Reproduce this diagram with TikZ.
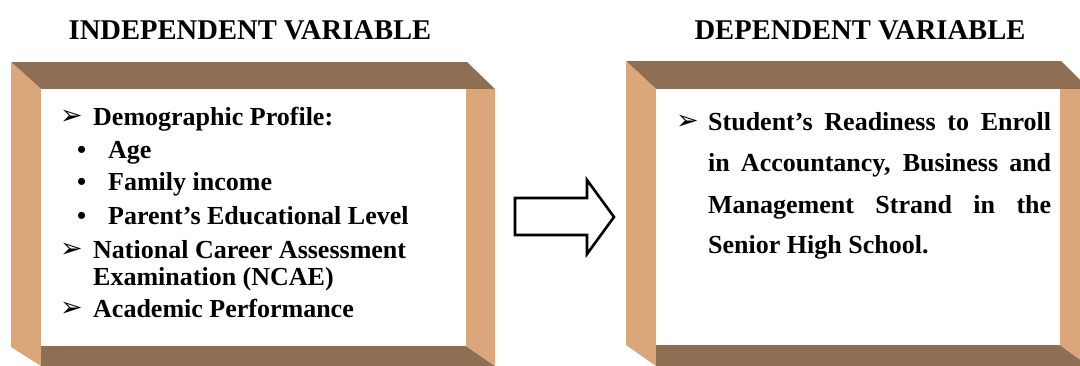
\documentclass[tikz,border=0pt]{standalone}
\usepackage{fontspec}
\setmainfont{Liberation Serif}
\newfontfamily\dingfont{DejaVu Sans}
\definecolor{darkband}{RGB}{142,111,83}
\definecolor{lightband}{RGB}{219,167,122}
\tikzset{
  txt/.style={inner sep=0pt, anchor=base west, font=\fontsize{26}{26}\selectfont\bfseries},
  ttl/.style={inner sep=0pt, anchor=base, font=\fontsize{28.6}{28.6}\selectfont\bfseries},
  dart/.style={inner sep=0pt, anchor=base west, font=\dingfont\bfseries\fontsize{27}{27}\selectfont},
  dot/.style={inner sep=0pt, anchor=base west, font=\fontsize{26}{26}\selectfont\bfseries},
  dband/.style={fill=darkband, draw=none},
  lband/.style={fill=lightband, draw=none},
  blockarrow/.style={draw=black, line width=2.6pt, fill=white, line join=miter}
}
\begin{document}
\begin{tikzpicture}[x=1pt,y=-1pt]
\useasboundingbox (0,0) rectangle (1080,365);
\clip (0,0) rectangle (1080,365);
\fill[white] (0,0) rectangle (1080,365);

% titles
\node[ttl] (t1) at (250,39) {INDEPENDENT VARIABLE};
\node[ttl] (t2) at (860,39) {DEPENDENT VARIABLE};

% left frame
\fill[dband] (11,62) -- (467,62) -- (495,89) -- (41,89) -- cycle;
\fill[lband] (11,62) -- (41,89) -- (41,366) -- (11,347) -- cycle;
\fill[dband] (41,346) -- (466,346) -- (495,366) -- (41,366) -- cycle;
\fill[lband] (466,89) -- (495,89) -- (495,366) -- (466,346) -- cycle;
\fill[white] (41,89) rectangle (466,346);

% right frame
\fill[dband] (626,61) -- (1061,61) -- (1089,89) -- (656,89) -- cycle;
\fill[lband] (626,61) -- (656,89) -- (656,366) -- (626,345) -- cycle;
\fill[dband] (656,345) -- (1060,345) -- (1089,366) -- (656,366) -- cycle;
\fill[lband] (1060,89) -- (1089,89) -- (1089,366) -- (1060,345) -- cycle;
\fill[white] (656,89) rectangle (1060,345);

% block arrow
\draw[blockarrow] (515,198) -- (587,198) -- (587,180) -- (614,217) -- (587,254) -- (587,235) -- (515,235) -- cycle;

% left content
\node[dart] (a1) at (60,124) {➢};
\node[txt] (l1) at (93,125) {Demographic Profile:};
\node[dot] (b1) at (77,158) {•};
\node[txt] (l2) at (108,158) {Age};
\node[dot] (b2) at (77,190) {•};
\node[txt] (l3) at (108,190) {Family income};
\node[dot] (b3) at (77,224) {•};
\node[txt] (l4) at (108,224) {Parent’s Educational Level};
\node[dart] (a2) at (60,257) {➢};
\node[txt] (l5) at (93,258) {National Career Assessment};
\node[txt] (l6) at (93,285) {Examination (NCAE)};
\node[dart] (a3) at (60,316) {➢};
\node[txt] (l7) at (93,317) {Academic Performance};

% right content
\node[dart] (a4) at (676,129) {➢};
\node[txt] (r1) at (708,130) {\makebox[343pt][s]{Student’s Readiness to Enroll}};
\node[txt] (r2) at (708,171) {\makebox[343pt][s]{in Accountancy, Business and}};
\node[txt] (r3) at (708,213) {\makebox[343pt][s]{Management Strand in the}};
\node[txt] (r4) at (708,253) {Senior High School.};
\end{tikzpicture}
\end{document}
